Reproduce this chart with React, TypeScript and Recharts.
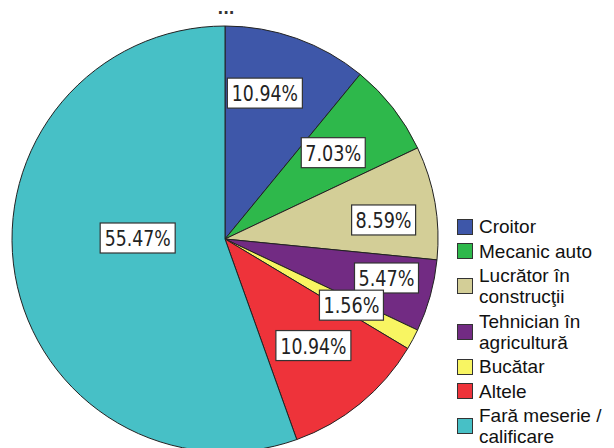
import React from 'react';
import { PieChart, Pie, Cell, Legend } from 'recharts';

const categories = [
  'Croitor',
  'Mecanic auto',
  'Lucrător în construcţii',
  'Tehnician în agricultură',
  'Bucătar',
  'Altele',
  'Fară meserie / calificare',
];
const legendLines = [
  ['Croitor'],
  ['Mecanic auto'],
  ['Lucrător în', 'construcţii'],
  ['Tehnician în', 'agricultură'],
  ['Bucătar'],
  ['Altele'],
  ['Fară meserie /', 'calificare'],
];
const counts = [14, 9, 11, 7, 2, 14, 71];
const colors = ['#3e57a9', '#2eb84b', '#d3ce97', '#722b83', '#f8f562', '#ee333a', '#47c0c6'];

// label placement style (fraction of radius, angle shift in degrees)
const LABEL_RADIUS = [0.71, 0.65, 0.75, 0.78, 0.67, 0.65, 0.41];
const LABEL_SHIFT = [4.4, 0.6, -3, 1.9, 0.5, 0.3, -10.5];

const total = counts.reduce((a, b) => a + b, 0);
const pct = (v: number) => ((v * 100) / total).toFixed(2) + '%';

const data = categories.map((name, i) => ({ name, value: counts[i] }));

const RADIAN = Math.PI / 180;

const renderLabel = (props: any) => {
  const { cx, cy, midAngle, outerRadius, index, value } = props;
  const r = outerRadius * LABEL_RADIUS[index];
  const a = (midAngle + LABEL_SHIFT[index]) * RADIAN;
  const x = cx + r * Math.cos(a);
  const y = cy - r * Math.sin(a);
  const text = pct(value);
  const long = text.length >= 6;
  const w = long ? 75 : 64;
  const h = 30;
  return (
    <g key={`lbl-${index}`}>
      <rect x={x - w / 2} y={y - h / 2} width={w} height={h} fill="#ffffff" stroke="#333" strokeWidth={1.2} />
      <text
        x={x}
        y={y + 1}
        textAnchor="middle"
        dominantBaseline="central"
        fontFamily="DejaVu Sans"
        fontSize={21}
        fill="#222"
        textLength={long ? 66 : 56}
        lengthAdjust="spacingAndGlyphs"
      >
        {text}
      </text>
    </g>
  );
};

const renderLegend = () => (
  <div style={{ fontFamily: '"Liberation Sans", Arial, sans-serif', fontSize: 19, color: '#111' }}>
    {legendLines.map((lines, i) => (
      <div key={i} style={{ display: 'flex', alignItems: 'center', marginBottom: 3.5 }}>
        <div
          style={{
            width: 16,
            height: 16,
            background: colors[i],
            border: '1px solid #333',
            marginRight: 6,
            flexShrink: 0,
            boxSizing: 'border-box',
          }}
        />
        <div style={{ lineHeight: '21px', whiteSpace: 'nowrap' }}>
          {lines.map((l, j) => (
            <div key={j}>{l}</div>
          ))}
        </div>
      </div>
    ))}
  </div>
);

export default function App() {
  return (
    <div style={{ position: 'absolute', left: 0, top: 0, width: 614, height: 448, background: '#fff', overflow: 'hidden' }}>
      <div
        style={{
          position: 'absolute',
          left: 206,
          top: 1,
          width: 40,
          height: 16,
          lineHeight: '16px',
          textAlign: 'center',
          fontFamily: '"DejaVu Sans"',
          fontWeight: 'bold',
          fontSize: 15,
          color: '#333',
          zIndex: 2,
        }}
      >
        ...
      </div>
      <PieChart width={614} height={448} margin={{ top: 0, right: 0, bottom: 0, left: 0 }}>
        <Pie
          data={data}
          dataKey="value"
          nameKey="name"
          cx={225}
          cy={239}
          outerRadius={213}
          startAngle={90}
          endAngle={-270}
          stroke="#222"
          strokeWidth={1}
          label={renderLabel}
          labelLine={false}
          isAnimationActive={false}
        >
          {data.map((d, i) => (
            <Cell key={d.name} fill={colors[i]} />
          ))}
        </Pie>
        <Legend
          content={renderLegend}
          wrapperStyle={{ position: 'absolute', left: 457, top: 216, width: 160 }}
        />
      </PieChart>
    </div>
  );
}
